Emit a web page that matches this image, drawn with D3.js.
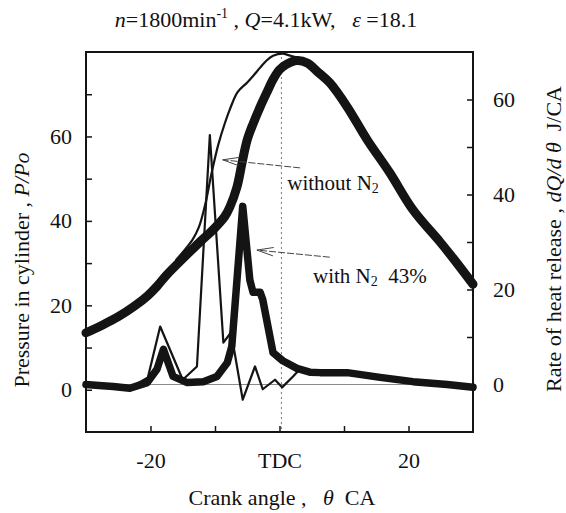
<!DOCTYPE html>
<html>
<head>
<meta charset="utf-8">
<script src="https://cdn.jsdelivr.net/npm/d3@7"></script>
<style>
  body { margin: 0; background: #fff; }
  text { font-family: "Liberation Serif", "Times New Roman", serif; fill: #111; }
</style>
</head>
<body>
<svg id="chart" width="566" height="513"></svg>
<script>
// crank angle (deg) vs P/Po, left axis
const pressureWithN2 = [
  [-30, 13.5], [-27.5, 15.3], [-25, 17.3], [-22.5, 19.8], [-20.5, 22.2], [-19, 24.5],
  [-17.5, 27.2], [-15.5, 30.3], [-13.5, 33.3], [-12, 35.5], [-10.3, 37.9], [-8.5, 41], [-7.7, 43.3],
  [-6.6, 48], [-5.8, 53.8], [-5, 59.2], [-4.1, 63], [-3, 67], [-2, 70.3],
  [-1, 73.5], [0, 75.8], [1, 77], [2.7, 78], [4.3, 77.4], [6, 75.2], [7.8, 72.7],
  [10.5, 67], [13.6, 59.2], [17.1, 51.4], [20.7, 42.6], [24.9, 35], [27, 31], [30, 25]
]
const pressureWithoutN2 = [
  [-16, 30.8], [-13.5, 35.5], [-12.5, 38.5], [-11.5, 44], [-10.5, 51.5], [-9.5, 58],
  [-8.5, 63], [-7.7, 66.4], [-6.5, 70.5], [-5, 72.8], [-4, 74.5], [-3, 76.3],
  [-2, 78], [-1, 79.1], [0.5, 79.6], [1.5, 79.2], [3, 78.6]
]

// crank angle (deg) vs dQ/dθ J/CA, right axis
const heatWithN2 = [
  [-30, 0], [-28, -0.2], [-25.8, -0.4], [-23.2, -0.8], [-20.5, 0.4], [-19, 3.2],
  [-18, 7.4], [-16.5, 1.7], [-14.3, 0.4], [-11.8, 0.6], [-9.7, 1.7], [-8.1, 4.6],
  [-7.4, 8], [-5.7, 37.5], [-4.6, 22], [-4.1, 19.4], [-3, 19.4], [-2.6, 17.9],
  [-1, 6.7], [0.5, 5], [2.7, 3.4], [4.7, 2.6], [6.3, 2.5], [10.5, 2.5],
  [15.6, 1.5], [20.7, 0.6], [26, 0], [30, -0.6]
]
const heatWithoutN2 = [
  [-22, 0.2], [-20.4, 1.5], [-18.5, 12.2], [-15, 1], [-12.8, 3.8], [-10.8, 52.5],
  [-8.7, 8.8], [-7.5, 11], [-5.7, -3.2], [-3.8, 3.8], [-2.6, -1], [-0.7, 1],
  [0.4, -0.6], [2.1, 1.7], [3, 3]
]

const xTicks = [-20, -10, 0, 10, 20]
const xTickLabels = { "-20": "-20", "0": "TDC", "20": "20" }
const pressureTicks = [0, 10, 20, 30, 40, 50, 60, 70]
const heatTicks = [0, 10, 20, 30, 40, 50, 60]

const width = 566
const height = 513
const margin = { top: 52, right: 93, bottom: 81, left: 86 }

const svg = d3.select("#chart")

const x = d3.scaleLinear().domain([-30, 30]).range([margin.left, width - margin.right])
const yP = d3.scaleLinear().domain([-10, 80]).range([height - margin.bottom, margin.top])
const yQ = d3.scaleLinear().domain([-10, 70]).range([height - margin.bottom, margin.top])

const ink = "#141414"

// zero line of heat release and TDC line
svg.append("line")
  .attr("x1", x(-30)).attr("x2", x(30))
  .attr("y1", yQ(0)).attr("y2", yQ(0))
  .attr("stroke", "#8a8a8a").attr("stroke-width", 1)

svg.append("line")
  .attr("x1", x(0.3)).attr("x2", x(0.3))
  .attr("y1", yP(80)).attr("y2", yP(-10))
  .attr("stroke", "#777").attr("stroke-width", 1)
  .attr("stroke-dasharray", "2,3")

// axes, ticks pointing inward
const gLeft = svg.append("g")
  .attr("transform", `translate(${margin.left},0)`)
  .call(d3.axisLeft(yP).tickValues(pressureTicks).tickSize(-6).tickPadding(14)
    .tickFormat(d => d % 20 === 0 ? d : ""))
const gRight = svg.append("g")
  .attr("transform", `translate(${width - margin.right},0)`)
  .call(d3.axisRight(yQ).tickValues(heatTicks).tickSize(-6).tickPadding(20)
    .tickFormat(d => d % 20 === 0 ? d : ""))
const gBottom = svg.append("g")
  .attr("transform", `translate(0,${height - margin.bottom})`)
  .call(d3.axisBottom(x).tickValues(xTicks).tickSize(-6).tickPadding(20)
    .tickFormat(d => xTickLabels[d] || ""))

;[gLeft, gRight, gBottom].forEach(g => {
  g.select(".domain").remove()
  g.selectAll(".tick line").attr("stroke", ink).attr("stroke-width", 1.5)
  g.selectAll("text").attr("font-size", 22).attr("font-family", null).attr("fill", ink)
})

// curves
const lineP = d3.line().x(d => x(d[0])).y(d => yP(d[1])).curve(d3.curveCatmullRom.alpha(0.5))
const lineQ = d3.line().x(d => x(d[0])).y(d => yQ(d[1]))

const plot = svg.append("g")
  .attr("fill", "none")
  .attr("stroke", ink)
  .attr("stroke-linejoin", "round")
  .attr("stroke-linecap", "round")

plot.append("path").attr("d", lineP(pressureWithN2)).attr("stroke-width", 9)
plot.append("path").attr("d", lineQ(heatWithN2)).attr("stroke-width", 7.5)
plot.append("path").attr("d", lineP(pressureWithoutN2)).attr("stroke-width", 2.2)
plot.append("path").attr("d", lineQ(heatWithoutN2)).attr("stroke-width", 2.2)

// frame
svg.append("rect")
  .attr("x", margin.left).attr("y", margin.top)
  .attr("width", width - margin.left - margin.right)
  .attr("height", height - margin.top - margin.bottom)
  .attr("fill", "none").attr("stroke", ink).attr("stroke-width", 2)

// annotation arrows (open heads)
function arrow(from, to) {
  const x0 = x(from[0]), y0 = yQ(from[1]), x1 = x(to[0]), y1 = yQ(to[1])
  const a = Math.atan2(y0 - y1, x0 - x1)
  const len = 17, half = 0.25
  const g = svg.append("g").attr("fill", "none").attr("stroke", "#444").attr("stroke-width", 1)
  g.append("line").attr("x1", x0).attr("y1", y0).attr("x2", x1).attr("y2", y1)
    .attr("stroke-dasharray", "7,2")
  g.append("path")
    .attr("d", `M${x1 + len * Math.cos(a - half)},${y1 + len * Math.sin(a - half)}` +
      `L${x1},${y1}L${x1 + len * Math.cos(a + half)},${y1 + len * Math.sin(a + half)}`)
}
arrow([3.2, 45.6], [-8.8, 47.3])
arrow([7.8, 26.8], [-3.5, 28.3])

function label(xv, qv, main, tail) {
  const t = svg.append("text").attr("x", x(xv)).attr("y", yQ(qv)).attr("font-size", 21)
  t.append("tspan").text(main)
  t.append("tspan").attr("font-size", 14).attr("dy", 3).text("2")
  if (tail) t.append("tspan").attr("dy", -3).text(tail)
}
label(1.2, 40.9, "without N", null)
label(5.2, 21.4, "with N", "\u00a0\u00a043%")

// title
const title = svg.append("text")
  .attr("x", 266).attr("y", 27)
  .attr("text-anchor", "middle").attr("font-size", 22)
title.append("tspan").attr("font-style", "italic").text("n")
title.append("tspan").text("=1800min")
title.append("tspan").attr("font-size", 14).attr("dy", -9).text("-1")
title.append("tspan").attr("dy", 9).text(" , ")
title.append("tspan").attr("font-style", "italic").text("Q")
title.append("tspan").text("=4.1kW,\u00a0\u00a0\u00a0")
title.append("tspan").attr("font-style", "italic").text("\u03b5")
title.append("tspan").text(" =18.1")

// axis titles
const xTitle = svg.append("text")
  .attr("x", 282).attr("y", 505)
  .attr("text-anchor", "middle").attr("font-size", 22)
xTitle.append("tspan").text("Crank angle ,\u00a0\u00a0\u00a0")
xTitle.append("tspan").attr("font-style", "italic").text("\u03b8")
xTitle.append("tspan").text("\u00a0\u00a0CA")

const yTitle = svg.append("text")
  .attr("transform", "translate(29,270) rotate(-90)")
  .attr("text-anchor", "middle").attr("font-size", 22)
yTitle.append("tspan").text("Pressure in cylinder , ")
yTitle.append("tspan").attr("font-style", "italic").text("P/Po")

const y2Title = svg.append("text")
  .attr("transform", "translate(561,239) rotate(-90)")
  .attr("text-anchor", "middle").attr("font-size", 22)
y2Title.append("tspan").text("Rate of heat release , ")
y2Title.append("tspan").attr("font-style", "italic").text("dQ/d \u03b8")
y2Title.append("tspan").text("\u00a0\u00a0J/CA")
</script>
</body>
</html>
